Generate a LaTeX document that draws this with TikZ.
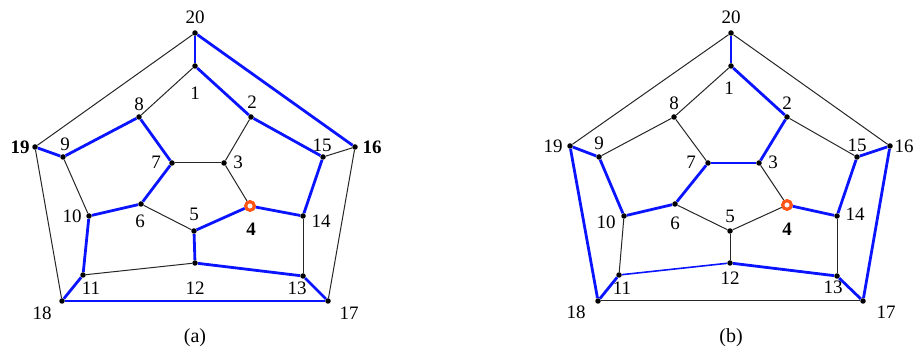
\documentclass[tikz,border=0pt]{standalone}
\usepackage{fontspec}
\setmainfont{Liberation Serif}
\begin{document}
\begin{tikzpicture}[x=1pt,y=-1pt,
  dot/.style={circle,fill=black,inner sep=0pt,minimum size=5.5pt},
  mark4/.style={circle,draw={rgb,255:red,255;green,85;blue,20},fill=white,line width=3pt,inner sep=0pt,minimum size=8.5pt},
  blk/.style={draw=black!85,line width=1pt},
  blu/.style={draw={rgb,255:red,10;green,20;blue,255},line width=2.8pt},
  bluthin/.style={draw={rgb,255:red,10;green,20;blue,255},line width=1.6pt},
  lbl/.style={inner sep=0pt,font=\fontsize{19}{21}\selectfont},
  blbl/.style={inner sep=0pt,font=\fontsize{19}{21}\selectfont\bfseries},
  captxt/.style={inner sep=0pt,font=\fontsize{20}{22}\selectfont}]
\useasboundingbox (0,0) rectangle (922,355);
% ---------- panel (a) ----------
\foreach \n/\x/\y in {20/195/33,1/195/66,8/139/117,2/251/117,19/35/147,16/355/147,9/63/157,15/323/157,7/172/163,3/224/163,6/141/204,10/89/216,5/194/231,14/303/216,12/195/263,11/83/275,13/303/276,18/62/301,17/328/301}
  \node[dot] (a\n) at (\x,\y) {};
\node[mark4] (a4) at (250,206) {};
% black edges (a)
\foreach \u/\v in {20/19,1/8,2/3,3/7,3/4,9/10,6/5,19/18,16/15,16/17,14/13,11/12}
  \draw[blk] (a\u) -- (a\v);
% blue edges (a)
\foreach \u/\v in {20/1,20/16,1/2,2/15,8/9,8/7,9/19,15/14,7/6,6/10,10/11,5/4,4/14,5/12,12/13,13/17,17/18,18/11}
  \draw[blu] (a\u) -- (a\v);
\node[mark4] at (a4) {};
% labels (a)
\node[lbl] (la20) at (195,17) {20};
\node[lbl] (la1) at (195,93) {1};
\node[lbl] (la8) at (139,104) {8};
\node[lbl] (la2) at (252,102) {2};
\node[blbl] (la19) at (20,147) {19};
\node[blbl] (la16) at (372,147) {16};
\node[lbl] (la9) at (65,144) {9};
\node[lbl] (la15) at (322,145) {15};
\node[lbl] (la7) at (156,162) {7};
\node[lbl] (la3) at (238,162) {3};
\node[lbl] (la10) at (72,216) {10};
\node[lbl] (la6) at (140,221) {6};
\node[lbl] (la5) at (194,214) {5};
\node[blbl] (la4) at (251,229) {4};
\node[lbl] (la14) at (321,221) {14};
\node[lbl] (la11) at (91,288) {11};
\node[lbl] (la12) at (195,288) {12};
\node[lbl] (la13) at (297,288) {13};
\node[lbl] (la18) at (42,313) {18};
\node[lbl] (la17) at (349,313) {17};
\node[captxt] (capa) at (195,338) {(a)};
% ---------- panel (b) ----------
\foreach \n/\x/\y in {20/731/33,1/731/66,8/674/117,2/787/117,19/570/146,16/890/146,9/599/157,15/857/157,7/708/163,3/759/163,6/675/204,10/624/216,5/730/231,14/837/216,12/730/263,11/619/275,13/837/276,18/598/301,17/863/301}
  \node[dot] (b\n) at (\x,\y) {};
\node[mark4] (b4) at (787,205) {};
% black edges (b)
\foreach \u/\v in {20/19,20/16,1/8,8/9,8/7,2/15,3/4,5/6,5/4,5/12,10/11,14/13,17/18}
  \draw[blk] (b\u) -- (b\v);
% blue edges (b)
\foreach \u/\v in {20/1,1/2,2/3,3/7,7/6,6/10,10/9,9/19,19/18,18/11,12/13,13/17,17/16,16/15,15/14,14/4}
  \draw[blu] (b\u) -- (b\v);
\draw[bluthin] (b11) -- (b12);
\node[mark4] at (b4) {};
% labels (b)
\node[lbl] (lb20) at (731,17) {20};
\node[lbl] (lb1) at (729,88) {1};
\node[lbl] (lb8) at (674,103) {8};
\node[lbl] (lb2) at (787,103) {2};
\node[lbl] (lb19) at (553,146) {19};
\node[lbl] (lb16) at (904,146) {16};
\node[lbl] (lb9) at (599,143) {9};
\node[lbl] (lb15) at (857,145) {15};
\node[lbl] (lb7) at (691,162) {7};
\node[lbl] (lb3) at (773,162) {3};
\node[lbl] (lb10) at (606,222) {10};
\node[lbl] (lb6) at (675,223) {6};
\node[lbl] (lb5) at (730,216) {5};
\node[blbl] (lb4) at (787,229) {4};
\node[lbl] (lb14) at (855,214) {14};
\node[lbl] (lb11) at (622,288) {11};
\node[lbl] (lb12) at (730,278) {12};
\node[lbl] (lb13) at (833,287) {13};
\node[lbl] (lb18) at (576,312) {18};
\node[lbl] (lb17) at (886,312) {17};
\node[captxt] (capb) at (731,338) {(b)};
\end{tikzpicture}
\end{document}
